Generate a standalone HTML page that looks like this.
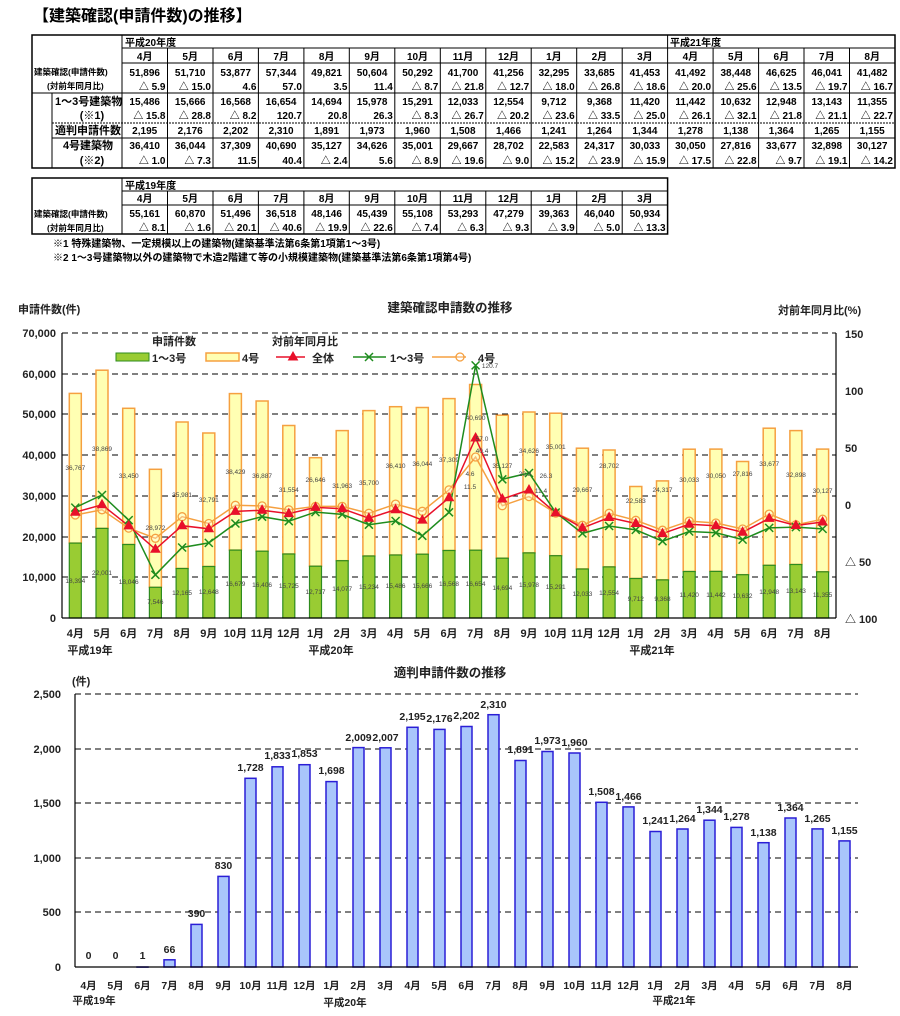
<!DOCTYPE html>
<html><head><meta charset="utf-8"><style>
html,body{margin:0;padding:0;background:#fff}
svg{display:block;font-family:"Liberation Sans","Noto Sans CJK JP",sans-serif}
.t{font-size:10px;font-weight:bold;fill:#000}
.c{text-anchor:middle}.r{text-anchor:end}
.s{font-size:6.5px;fill:#444;text-anchor:middle}
.ax{font-size:11px;font-weight:bold;fill:#222}
.v{font-size:10.5px;font-weight:bold;fill:#222;text-anchor:middle}
</style></head><body>
<svg width="900" height="1016" viewBox="0 0 900 1016" xmlns="http://www.w3.org/2000/svg">
<defs>
<path id="tri" d="M0,-5 L4.5,3 L-4.5,3Z" fill="#e8102a" stroke="#e8102a"/>
<path id="xx" d="M-4,-4L4,4M-4,4L4,-4" stroke="#1e8c1e" stroke-width="1.5" fill="none"/>
<circle id="ci" r="4" fill="#fff" fill-opacity="0.3" stroke="#f5a040" stroke-width="1.3"/>
</defs>
<text x="33" y="21" style="font-size:16px;font-weight:bold">【建築確認(申請件数)の推移】</text>

<!-- TABLE 1 -->
<g stroke="#000" fill="none">
<rect x="32" y="35" width="863" height="133" stroke-width="1.5"/>
<line x1="122" y1="48" x2="895" y2="48"/>
<line x1="122" y1="63" x2="895" y2="63"/>
<line x1="32" y1="63" x2="122" y2="63" stroke-width="0"/>
<line x1="32" y1="93" x2="895" y2="93"/>
<line x1="52" y1="123" x2="895" y2="123" stroke-dasharray="2,1"/>
<line x1="52" y1="138" x2="895" y2="138"/>
<line x1="52" y1="93" x2="52" y2="168"/>
<line x1="122" y1="35" x2="122" y2="168"/>
<line x1="667.6" y1="35" x2="667.6" y2="168"/>
<path d="M167.5,48V168M213,48V168M258.4,48V168M303.9,48V168M349.3,48V168M394.8,48V168M440.3,48V168M485.8,48V168M531.2,48V168M576.7,48V168M622.2,48V168M713.1,48V168M758.6,48V168M804,48V168M849.5,48V168"/>
</g>
<g class="t">
<text x="125" y="46">平成20年度</text><text x="670" y="46">平成21年度</text>
<g class="c">
<text x="144.7" y="60">4月</text><text x="190.2" y="60">5月</text><text x="235.7" y="60">6月</text><text x="281.1" y="60">7月</text><text x="326.6" y="60">8月</text><text x="372.1" y="60">9月</text><text x="417.5" y="60">10月</text><text x="463" y="60">11月</text><text x="508.5" y="60">12月</text><text x="553.9" y="60">1月</text><text x="599.4" y="60">2月</text><text x="644.9" y="60">3月</text><text x="690.4" y="60">4月</text><text x="735.8" y="60">5月</text><text x="781.3" y="60">6月</text><text x="826.8" y="60">7月</text><text x="872.2" y="60">8月</text>
<text x="144.7" y="76">51,896</text><text x="190.2" y="76">51,710</text><text x="235.7" y="76">53,877</text><text x="281.1" y="76">57,344</text><text x="326.6" y="76">49,821</text><text x="372.1" y="76">50,604</text><text x="417.5" y="76">50,292</text><text x="463" y="76">41,700</text><text x="508.5" y="76">41,256</text><text x="553.9" y="76">32,295</text><text x="599.4" y="76">33,685</text><text x="644.9" y="76">41,453</text><text x="690.4" y="76">41,492</text><text x="735.8" y="76">38,448</text><text x="781.3" y="76">46,625</text><text x="826.8" y="76">46,041</text><text x="872.2" y="76">41,482</text>
<text x="144.7" y="105">15,486</text><text x="190.2" y="105">15,666</text><text x="235.7" y="105">16,568</text><text x="281.1" y="105">16,654</text><text x="326.6" y="105">14,694</text><text x="372.1" y="105">15,978</text><text x="417.5" y="105">15,291</text><text x="463" y="105">12,033</text><text x="508.5" y="105">12,554</text><text x="553.9" y="105">9,712</text><text x="599.4" y="105">9,368</text><text x="644.9" y="105">11,420</text><text x="690.4" y="105">11,442</text><text x="735.8" y="105">10,632</text><text x="781.3" y="105">12,948</text><text x="826.8" y="105">13,143</text><text x="872.2" y="105">11,355</text>
<text x="144.7" y="134">2,195</text><text x="190.2" y="134">2,176</text><text x="235.7" y="134">2,202</text><text x="281.1" y="134">2,310</text><text x="326.6" y="134">1,891</text><text x="372.1" y="134">1,973</text><text x="417.5" y="134">1,960</text><text x="463" y="134">1,508</text><text x="508.5" y="134">1,466</text><text x="553.9" y="134">1,241</text><text x="599.4" y="134">1,264</text><text x="644.9" y="134">1,344</text><text x="690.4" y="134">1,278</text><text x="735.8" y="134">1,138</text><text x="781.3" y="134">1,364</text><text x="826.8" y="134">1,265</text><text x="872.2" y="134">1,155</text>
<text x="144.7" y="149">36,410</text><text x="190.2" y="149">36,044</text><text x="235.7" y="149">37,309</text><text x="281.1" y="149">40,690</text><text x="326.6" y="149">35,127</text><text x="372.1" y="149">34,626</text><text x="417.5" y="149">35,001</text><text x="463" y="149">29,667</text><text x="508.5" y="149">28,702</text><text x="553.9" y="149">22,583</text><text x="599.4" y="149">24,317</text><text x="644.9" y="149">30,033</text><text x="690.4" y="149">30,050</text><text x="735.8" y="149">27,816</text><text x="781.3" y="149">33,677</text><text x="826.8" y="149">32,898</text><text x="872.2" y="149">30,127</text>
</g>
<g class="r">
<text x="165.5" y="90">△ 5.9</text><text x="211" y="90">△ 15.0</text><text x="256.4" y="90">4.6</text><text x="301.9" y="90">57.0</text><text x="347.4" y="90">3.5</text><text x="392.8" y="90">11.4</text><text x="438.3" y="90">△ 8.7</text><text x="483.8" y="90">△ 21.8</text><text x="529.2" y="90">△ 12.7</text><text x="574.7" y="90">△ 18.0</text><text x="620.2" y="90">△ 26.8</text><text x="665.6" y="90">△ 18.6</text><text x="711.1" y="90">△ 20.0</text><text x="756.6" y="90">△ 25.6</text><text x="802" y="90">△ 13.5</text><text x="847.5" y="90">△ 19.7</text><text x="893" y="90">△ 16.7</text>
<text x="165.5" y="119">△ 15.8</text><text x="211" y="119">△ 28.8</text><text x="256.4" y="119">△ 8.2</text><text x="301.9" y="119">120.7</text><text x="347.4" y="119">20.8</text><text x="392.8" y="119">26.3</text><text x="438.3" y="119">△ 8.3</text><text x="483.8" y="119">△ 26.7</text><text x="529.2" y="119">△ 20.2</text><text x="574.7" y="119">△ 23.6</text><text x="620.2" y="119">△ 33.5</text><text x="665.6" y="119">△ 25.0</text><text x="711.1" y="119">△ 26.1</text><text x="756.6" y="119">△ 32.1</text><text x="802" y="119">△ 21.8</text><text x="847.5" y="119">△ 21.1</text><text x="893" y="119">△ 22.7</text>
<text x="165.5" y="164">△ 1.0</text><text x="211" y="164">△ 7.3</text><text x="256.4" y="164">11.5</text><text x="301.9" y="164">40.4</text><text x="347.4" y="164">△ 2.4</text><text x="392.8" y="164">5.6</text><text x="438.3" y="164">△ 8.9</text><text x="483.8" y="164">△ 19.6</text><text x="529.2" y="164">△ 9.0</text><text x="574.7" y="164">△ 15.2</text><text x="620.2" y="164">△ 23.9</text><text x="665.6" y="164">△ 15.9</text><text x="711.1" y="164">△ 17.5</text><text x="756.6" y="164">△ 22.8</text><text x="802" y="164">△ 9.7</text><text x="847.5" y="164">△ 19.1</text><text x="893" y="164">△ 14.2</text>
</g>
<text x="34" y="75" style="font-size:8.5px">建築確認(申請件数)</text>
<text x="47" y="89" style="font-size:8.5px">(対前年同月比)</text>
<text x="55" y="105" style="font-size:11px">1～3号建築物</text>
<text x="92" y="119" class="c" style="font-size:11px">(※1)</text>
<text x="55" y="134" style="font-size:11px">適判申請件数</text>
<text x="88" y="149" class="c" style="font-size:11px">4号建築物</text>
<text x="92" y="164" class="c" style="font-size:11px">(※2)</text>
</g>

<!-- TABLE 2 -->
<g stroke="#000" fill="none">
<rect x="32" y="178" width="635.6" height="56" stroke-width="1.5"/>
<line x1="122" y1="191" x2="667.6" y2="191"/>
<line x1="122" y1="205" x2="667.6" y2="205"/>
<line x1="122" y1="178" x2="122" y2="234"/>
<path d="M167.5,191V234M213,191V234M258.4,191V234M303.9,191V234M349.3,191V234M394.8,191V234M440.3,191V234M485.8,191V234M531.2,191V234M576.7,191V234M622.2,191V234"/>
</g>
<g class="t">
<text x="125" y="189">平成19年度</text>
<g class="c">
<text x="144.7" y="202">4月</text><text x="190.2" y="202">5月</text><text x="235.7" y="202">6月</text><text x="281.1" y="202">7月</text><text x="326.6" y="202">8月</text><text x="372.1" y="202">9月</text><text x="417.5" y="202">10月</text><text x="463" y="202">11月</text><text x="508.5" y="202">12月</text><text x="553.9" y="202">1月</text><text x="599.4" y="202">2月</text><text x="644.9" y="202">3月</text>
<text x="144.7" y="217">55,161</text><text x="190.2" y="217">60,870</text><text x="235.7" y="217">51,496</text><text x="281.1" y="217">36,518</text><text x="326.6" y="217">48,146</text><text x="372.1" y="217">45,439</text><text x="417.5" y="217">55,108</text><text x="463" y="217">53,293</text><text x="508.5" y="217">47,279</text><text x="553.9" y="217">39,363</text><text x="599.4" y="217">46,040</text><text x="644.9" y="217">50,934</text>
</g>
<g class="r">
<text x="165.5" y="231">△ 8.1</text><text x="211" y="231">△ 1.6</text><text x="256.4" y="231">△ 20.1</text><text x="301.9" y="231">△ 40.6</text><text x="347.4" y="231">△ 19.9</text><text x="392.8" y="231">△ 22.6</text><text x="438.3" y="231">△ 7.4</text><text x="483.8" y="231">△ 6.3</text><text x="529.2" y="231">△ 9.3</text><text x="574.7" y="231">△ 3.9</text><text x="620.2" y="231">△ 5.0</text><text x="665.6" y="231">△ 13.3</text>
</g>
<text x="34" y="217" style="font-size:8.5px">建築確認(申請件数)</text>
<text x="47" y="231" style="font-size:8.5px">(対前年同月比)</text>
<text x="53" y="247">※1  特殊建築物、一定規模以上の建築物(建築基準法第6条第1項第1～3号)</text>
<text x="53" y="261">※2  1～3号建築物以外の建築物で木造2階建て等の小規模建築物(建築基準法第6条第1項第4号)</text>
</g>

<!-- CHART 1 -->
<text x="18" y="313" class="ax">申請件数(件)</text>
<text x="450" y="312" class="ax c" style="font-size:12.5px">建築確認申請数の推移</text>
<text x="778" y="314" class="ax">対前年同月比(%)</text>
<g stroke="#000" stroke-dasharray="6,4" stroke-width="1">
<line x1="62" y1="333" x2="836" y2="333"/><line x1="62" y1="374" x2="836" y2="374"/><line x1="62" y1="414" x2="836" y2="414"/><line x1="62" y1="455" x2="836" y2="455"/><line x1="62" y1="496" x2="836" y2="496"/><line x1="62" y1="537" x2="836" y2="537"/><line x1="62" y1="577" x2="836" y2="577"/>
</g>
<g class="ax r">
<text x="56" y="337">70,000</text><text x="56" y="378">60,000</text><text x="56" y="418">50,000</text><text x="56" y="459">40,000</text><text x="56" y="500">30,000</text><text x="56" y="541">20,000</text><text x="56" y="581">10,000</text><text x="56" y="622">0</text>
</g>
<g class="ax">
<text x="845" y="338">150</text><text x="845" y="395">100</text><text x="845" y="452">50</text><text x="845" y="509">0</text><text x="845" y="566">△ 50</text><text x="845" y="623">△ 100</text>
</g>
<!-- bars -->
<g fill="#ffffb3" stroke="#f5a040" stroke-width="1.5">
<rect x="69.3" y="393.4" width="12" height="149.7"/><rect x="96" y="370.2" width="12" height="158.2"/><rect x="122.7" y="408.3" width="12" height="136.2"/><rect x="149.4" y="469.3" width="12" height="118"/><rect x="176.1" y="422" width="12" height="146.5"/><rect x="202.8" y="433" width="12" height="133.5"/><rect x="229.4" y="393.6" width="12" height="156.5"/><rect x="256.1" y="401" width="12" height="150.2"/><rect x="282.8" y="425.5" width="12" height="128.5"/><rect x="309.5" y="457.7" width="12" height="108.5"/><rect x="336.2" y="430.6" width="12" height="130.1"/><rect x="362.9" y="410.6" width="12" height="145.4"/><rect x="389.6" y="406.7" width="12" height="148.3"/><rect x="416.3" y="407.5" width="12" height="146.7"/><rect x="443" y="398.6" width="12" height="151.9"/><rect x="469.6" y="384.5" width="12" height="165.7"/><rect x="496.3" y="415.2" width="12" height="143"/><rect x="523" y="412" width="12" height="140.9"/><rect x="549.7" y="413.2" width="12" height="142.5"/><rect x="576.4" y="448.2" width="12" height="120.8"/><rect x="603.1" y="450" width="12" height="116.9"/><rect x="629.8" y="486.5" width="12" height="92"/><rect x="656.5" y="480.9" width="12" height="99"/><rect x="683.2" y="449.2" width="12" height="122.3"/><rect x="709.9" y="449.1" width="12" height="122.3"/><rect x="736.6" y="461.5" width="12" height="113.2"/><rect x="763.2" y="428.2" width="12" height="137.1"/><rect x="789.9" y="430.6" width="12" height="133.9"/><rect x="816.6" y="449.1" width="12" height="122.7"/>
</g>
<g fill="#99cc33" stroke="#2e8b1e" stroke-width="1.2">
<rect x="69.3" y="543.1" width="12" height="74.9"/><rect x="96" y="528.4" width="12" height="89.6"/><rect x="122.7" y="544.5" width="12" height="73.5"/><rect x="149.4" y="587.3" width="12" height="30.7"/><rect x="176.1" y="568.5" width="12" height="49.5"/><rect x="202.8" y="566.5" width="12" height="51.5"/><rect x="229.4" y="550.1" width="12" height="67.9"/><rect x="256.1" y="551.2" width="12" height="66.8"/><rect x="282.8" y="554" width="12" height="64"/><rect x="309.5" y="566.2" width="12" height="51.8"/><rect x="336.2" y="560.7" width="12" height="57.3"/><rect x="362.9" y="556" width="12" height="62"/><rect x="389.6" y="555" width="12" height="63"/><rect x="416.3" y="554.2" width="12" height="63.8"/><rect x="443" y="550.5" width="12" height="67.5"/><rect x="469.6" y="550.2" width="12" height="67.8"/><rect x="496.3" y="558.2" width="12" height="59.8"/><rect x="523" y="552.9" width="12" height="65.1"/><rect x="549.7" y="555.7" width="12" height="62.3"/><rect x="576.4" y="569" width="12" height="49"/><rect x="603.1" y="566.9" width="12" height="51.1"/><rect x="629.8" y="578.5" width="12" height="39.5"/><rect x="656.5" y="579.9" width="12" height="38.1"/><rect x="683.2" y="571.5" width="12" height="46.5"/><rect x="709.9" y="571.4" width="12" height="46.6"/><rect x="736.6" y="574.7" width="12" height="43.3"/><rect x="763.2" y="565.3" width="12" height="52.7"/><rect x="789.9" y="564.5" width="12" height="53.5"/><rect x="816.6" y="571.8" width="12" height="46.2"/>
</g>
<!-- bar labels -->
<g class="s">
<text x="75.3" y="470">36,767</text><text x="102" y="451">38,869</text><text x="128.7" y="478">33,450</text><text x="155.4" y="530">28,972</text><text x="182.1" y="497">35,981</text><text x="208.8" y="502">32,791</text><text x="235.4" y="474">38,429</text><text x="262.1" y="478">36,887</text><text x="288.8" y="492">31,554</text><text x="315.5" y="482">26,646</text><text x="342.2" y="488">31,963</text><text x="368.9" y="485">35,700</text><text x="395.6" y="468">36,410</text><text x="422.3" y="466">36,044</text><text x="449" y="462">37,309</text><text x="475.6" y="420">40,690</text><text x="502.3" y="468">35,127</text><text x="529" y="453">34,626</text><text x="555.7" y="449">35,001</text><text x="582.4" y="492">29,667</text><text x="609.1" y="468">28,702</text><text x="635.8" y="503">22,583</text><text x="662.5" y="492">24,317</text><text x="689.2" y="482">30,033</text><text x="715.9" y="478">30,050</text><text x="742.6" y="476">27,816</text><text x="769.2" y="466">33,677</text><text x="795.9" y="477">32,898</text><text x="822.6" y="493">30,127</text>
<text x="75.3" y="583">18,394</text><text x="102" y="575">22,001</text><text x="128.7" y="584">18,046</text><text x="155.4" y="604">7,546</text><text x="182.1" y="595">12,165</text><text x="208.8" y="594">12,648</text><text x="235.4" y="586">16,679</text><text x="262.1" y="587">16,406</text><text x="288.8" y="588">15,725</text><text x="315.5" y="594">12,717</text><text x="342.2" y="591">14,077</text><text x="368.9" y="589">15,234</text><text x="395.6" y="588">15,486</text><text x="422.3" y="588">15,666</text><text x="449" y="586">16,568</text><text x="475.6" y="586">16,654</text><text x="502.3" y="590">14,694</text><text x="529" y="587">15,978</text><text x="555.7" y="589">15,291</text><text x="582.4" y="596">12,033</text><text x="609.1" y="595">12,554</text><text x="635.8" y="601">9,712</text><text x="662.5" y="601">9,368</text><text x="689.2" y="597">11,420</text><text x="715.9" y="597">11,442</text><text x="742.6" y="598">10,632</text><text x="769.2" y="594">12,948</text><text x="795.9" y="593">13,143</text><text x="822.6" y="597">11,355</text>
</g>
<!-- lines -->
<polyline fill="none" stroke="#f5a040" stroke-width="1.5" points="75.3,515 102,509.8 128.7,528.1 155.4,538.3 182.1,516.7 208.8,523.5 235.4,505.3 262.1,505.9 288.8,509.8 315.5,506.4 342.2,506.4 368.9,513.3 395.6,504.1 422.3,511.3 449,489.9 475.6,457 502.3,505.7 529,496.6 555.7,513.1 582.4,525.3 609.1,513.3 635.8,520.3 662.5,530.2 689.2,521.1 715.9,523 742.6,529 769.2,514.1 795.9,524.8 822.6,519.2"/>
<polyline fill="none" stroke="#1e8c1e" stroke-width="1.5" points="75.3,507.6 102,495 128.7,520.1 155.4,574.8 182.1,547.5 208.8,542.9 235.4,523.5 262.1,516.7 288.8,521.2 315.5,512.1 342.2,514.4 368.9,524.7 395.6,521 422.3,535.8 449,512.3 475.6,365.4 502.3,479.3 529,473 555.7,512.5 582.4,533.4 609.1,526 635.8,529.9 662.5,541.2 689.2,531.5 715.9,532.8 742.6,539.6 769.2,527.9 795.9,527.1 822.6,528.9"/>
<polyline fill="none" stroke="#e8102a" stroke-width="1.5" points="75.3,512.2 102,504.8 128.7,525.9 155.4,549.3 182.1,525.7 208.8,528.8 235.4,511.4 262.1,510.2 288.8,513.6 315.5,507.4 342.2,508.7 368.9,518.2 395.6,509.7 422.3,520.1 449,497.8 475.6,438 502.3,499 529,490 555.7,512.9 582.4,527.9 609.1,517.5 635.8,523.5 662.5,533.6 689.2,524.2 715.9,525.8 742.6,532.2 769.2,518.4 795.9,525.5 822.6,522"/>
<g>
<use href="#ci" x="75.3" y="515"/><use href="#ci" x="102" y="509.8"/><use href="#ci" x="128.7" y="528.1"/><use href="#ci" x="155.4" y="538.3"/><use href="#ci" x="182.1" y="516.7"/><use href="#ci" x="208.8" y="523.5"/><use href="#ci" x="235.4" y="505.3"/><use href="#ci" x="262.1" y="505.9"/><use href="#ci" x="288.8" y="509.8"/><use href="#ci" x="315.5" y="506.4"/><use href="#ci" x="342.2" y="506.4"/><use href="#ci" x="368.9" y="513.3"/><use href="#ci" x="395.6" y="504.1"/><use href="#ci" x="422.3" y="511.3"/><use href="#ci" x="449" y="489.9"/><use href="#ci" x="475.6" y="457"/><use href="#ci" x="502.3" y="505.7"/><use href="#ci" x="529" y="496.6"/><use href="#ci" x="555.7" y="513.1"/><use href="#ci" x="582.4" y="525.3"/><use href="#ci" x="609.1" y="513.3"/><use href="#ci" x="635.8" y="520.3"/><use href="#ci" x="662.5" y="530.2"/><use href="#ci" x="689.2" y="521.1"/><use href="#ci" x="715.9" y="523"/><use href="#ci" x="742.6" y="529"/><use href="#ci" x="769.2" y="514.1"/><use href="#ci" x="795.9" y="524.8"/><use href="#ci" x="822.6" y="519.2"/>
<use href="#xx" x="75.3" y="507.6"/><use href="#xx" x="102" y="495"/><use href="#xx" x="128.7" y="520.1"/><use href="#xx" x="155.4" y="574.8"/><use href="#xx" x="182.1" y="547.5"/><use href="#xx" x="208.8" y="542.9"/><use href="#xx" x="235.4" y="523.5"/><use href="#xx" x="262.1" y="516.7"/><use href="#xx" x="288.8" y="521.2"/><use href="#xx" x="315.5" y="512.1"/><use href="#xx" x="342.2" y="514.4"/><use href="#xx" x="368.9" y="524.7"/><use href="#xx" x="395.6" y="521"/><use href="#xx" x="422.3" y="535.8"/><use href="#xx" x="449" y="512.3"/><use href="#xx" x="475.6" y="365.4"/><use href="#xx" x="502.3" y="479.3"/><use href="#xx" x="529" y="473"/><use href="#xx" x="555.7" y="512.5"/><use href="#xx" x="582.4" y="533.4"/><use href="#xx" x="609.1" y="526"/><use href="#xx" x="635.8" y="529.9"/><use href="#xx" x="662.5" y="541.2"/><use href="#xx" x="689.2" y="531.5"/><use href="#xx" x="715.9" y="532.8"/><use href="#xx" x="742.6" y="539.6"/><use href="#xx" x="769.2" y="527.9"/><use href="#xx" x="795.9" y="527.1"/><use href="#xx" x="822.6" y="528.9"/>
<use href="#tri" x="75.3" y="512.2"/><use href="#tri" x="102" y="504.8"/><use href="#tri" x="128.7" y="525.9"/><use href="#tri" x="155.4" y="549.3"/><use href="#tri" x="182.1" y="525.7"/><use href="#tri" x="208.8" y="528.8"/><use href="#tri" x="235.4" y="511.4"/><use href="#tri" x="262.1" y="510.2"/><use href="#tri" x="288.8" y="513.6"/><use href="#tri" x="315.5" y="507.4"/><use href="#tri" x="342.2" y="508.7"/><use href="#tri" x="368.9" y="518.2"/><use href="#tri" x="395.6" y="509.7"/><use href="#tri" x="422.3" y="520.1"/><use href="#tri" x="449" y="497.8"/><use href="#tri" x="475.6" y="438"/><use href="#tri" x="502.3" y="499"/><use href="#tri" x="529" y="490"/><use href="#tri" x="555.7" y="512.9"/><use href="#tri" x="582.4" y="527.9"/><use href="#tri" x="609.1" y="517.5"/><use href="#tri" x="635.8" y="523.5"/><use href="#tri" x="662.5" y="533.6"/><use href="#tri" x="689.2" y="524.2"/><use href="#tri" x="715.9" y="525.8"/><use href="#tri" x="742.6" y="532.2"/><use href="#tri" x="769.2" y="518.4"/><use href="#tri" x="795.9" y="525.5"/><use href="#tri" x="822.6" y="522"/>
</g>
<g class="s"><text x="490" y="368">120.7</text><text x="482" y="441">57.0</text><text x="482" y="453">40.4</text><text x="470" y="476">4.6</text><text x="470" y="489">11.5</text><text x="525" y="476">20.8</text><text x="546" y="478">26.3</text><text x="541" y="493">11.4</text></g>
<!-- axes -->
<g stroke="#000" stroke-width="1.2">
<line x1="62" y1="333" x2="62" y2="618"/><line x1="836" y1="333" x2="836" y2="618"/><line x1="62" y1="618" x2="836" y2="618"/>
</g>
<!-- legend -->
<g class="ax">
<text x="152" y="345">申請件数</text><text x="272" y="345">対前年同月比</text>
<rect x="116" y="353" width="33" height="8" fill="#99cc33" stroke="#2e8b1e"/><text x="152" y="362">1～3号</text>
<rect x="206" y="353" width="33" height="8" fill="#ffffb3" stroke="#f5a040" stroke-width="1.5"/><text x="242" y="362">4号</text>
<line x1="276" y1="357" x2="305" y2="357" stroke="#e8102a" stroke-width="1.5"/><use href="#tri" x="293" y="357"/><text x="312" y="362">全体</text>
<line x1="353" y1="357" x2="386" y2="357" stroke="#1e8c1e" stroke-width="1.5"/><use href="#xx" x="369" y="357"/><text x="390" y="362">1～3号</text>
<line x1="432" y1="357" x2="466" y2="357" stroke="#f5a040" stroke-width="1.5"/><use href="#ci" x="460" y="357"/><text x="478" y="362">4号</text>
</g>
<g class="ax c">
<text x="75.3" y="637">4月</text><text x="102" y="637">5月</text><text x="128.7" y="637">6月</text><text x="155.4" y="637">7月</text><text x="182.1" y="637">8月</text><text x="208.8" y="637">9月</text><text x="235.4" y="637">10月</text><text x="262.1" y="637">11月</text><text x="288.8" y="637">12月</text><text x="315.5" y="637">1月</text><text x="342.2" y="637">2月</text><text x="368.9" y="637">3月</text><text x="395.6" y="637">4月</text><text x="422.3" y="637">5月</text><text x="449" y="637">6月</text><text x="475.6" y="637">7月</text><text x="502.3" y="637">8月</text><text x="529" y="637">9月</text><text x="555.7" y="637">10月</text><text x="582.4" y="637">11月</text><text x="609.1" y="637">12月</text><text x="635.8" y="637">1月</text><text x="662.5" y="637">2月</text><text x="689.2" y="637">3月</text><text x="715.9" y="637">4月</text><text x="742.6" y="637">5月</text><text x="769.2" y="637">6月</text><text x="795.9" y="637">7月</text><text x="822.6" y="637">8月</text>
<text x="90" y="654">平成19年</text><text x="331" y="654">平成20年</text><text x="652" y="654">平成21年</text>
</g>

<!-- CHART 2 -->
<text x="450" y="677" class="ax c" style="font-size:12.5px">適判申請件数の推移</text>
<text x="72" y="685" class="ax">(件)</text>
<g stroke="#000" stroke-dasharray="6,4">
<line x1="75" y1="694" x2="858" y2="694"/><line x1="75" y1="749" x2="858" y2="749"/><line x1="75" y1="803" x2="858" y2="803"/><line x1="75" y1="858" x2="858" y2="858"/><line x1="75" y1="912" x2="858" y2="912"/>
</g>
<g class="ax r">
<text x="61" y="698">2,500</text><text x="61" y="753">2,000</text><text x="61" y="807">1,500</text><text x="61" y="862">1,000</text><text x="61" y="916">500</text><text x="61" y="971">0</text>
</g>
<g fill="#a9c6fb" stroke="#2a1ed6" stroke-width="1.5">
<rect x="137" y="967" width="11" height="0.1"/><rect x="164" y="959.8" width="11" height="7.2"/><rect x="191" y="924.4" width="11" height="42.6"/><rect x="218" y="876.4" width="11" height="90.6"/><rect x="245" y="778.3" width="11" height="188.7"/><rect x="272" y="766.8" width="11" height="200.2"/><rect x="299" y="764.7" width="11" height="202.3"/><rect x="326" y="781.6" width="11" height="185.4"/><rect x="353" y="747.6" width="11" height="219.4"/><rect x="380" y="747.8" width="11" height="219.2"/><rect x="407" y="727.3" width="11" height="239.7"/><rect x="434" y="729.4" width="11" height="237.6"/><rect x="461" y="726.5" width="11" height="240.5"/><rect x="488" y="714.7" width="11" height="252.3"/><rect x="515" y="760.5" width="11" height="206.5"/><rect x="542" y="751.5" width="11" height="215.5"/><rect x="569" y="753" width="11" height="214"/><rect x="596" y="802.3" width="11" height="164.7"/><rect x="623" y="806.9" width="11" height="160.1"/><rect x="650" y="831.5" width="11" height="135.5"/><rect x="677" y="829" width="11" height="138"/><rect x="704" y="820.2" width="11" height="146.8"/><rect x="731" y="827.4" width="11" height="139.6"/><rect x="758" y="842.7" width="11" height="124.3"/><rect x="785" y="818" width="11" height="149"/><rect x="812" y="828.9" width="11" height="138.1"/><rect x="839" y="840.9" width="11" height="126.1"/>
</g>
<g stroke="#000" stroke-width="1.2"><line x1="75" y1="694" x2="75" y2="967"/><line x1="75" y1="967" x2="858" y2="967"/></g>
<g class="v">
<text x="88.5" y="959">0</text><text x="115.5" y="959">0</text><text x="142.5" y="959">1</text><text x="169.5" y="953">66</text><text x="196.5" y="917">390</text><text x="223.5" y="869">830</text><text x="250.5" y="771">1,728</text><text x="277.5" y="759">1,833</text><text x="304.5" y="757">1,853</text><text x="331.5" y="774">1,698</text><text x="358.5" y="741">2,009</text><text x="385.5" y="741">2,007</text><text x="412.5" y="720">2,195</text><text x="439.5" y="722">2,176</text><text x="466.5" y="719">2,202</text><text x="493.5" y="708">2,310</text><text x="520.5" y="753">1,891</text><text x="547.5" y="744">1,973</text><text x="574.5" y="746">1,960</text><text x="601.5" y="795">1,508</text><text x="628.5" y="800">1,466</text><text x="655.5" y="824">1,241</text><text x="682.5" y="822">1,264</text><text x="709.5" y="813">1,344</text><text x="736.5" y="820">1,278</text><text x="763.5" y="836">1,138</text><text x="790.5" y="811">1,364</text><text x="817.5" y="822">1,265</text><text x="844.5" y="834">1,155</text>
</g>
<g class="ax c" style="font-size:10.5px">
<text x="88.5" y="989">4月</text><text x="115.5" y="989">5月</text><text x="142.5" y="989">6月</text><text x="169.5" y="989">7月</text><text x="196.5" y="989">8月</text><text x="223.5" y="989">9月</text><text x="250.5" y="989">10月</text><text x="277.5" y="989">11月</text><text x="304.5" y="989">12月</text><text x="331.5" y="989">1月</text><text x="358.5" y="989">2月</text><text x="385.5" y="989">3月</text><text x="412.5" y="989">4月</text><text x="439.5" y="989">5月</text><text x="466.5" y="989">6月</text><text x="493.5" y="989">7月</text><text x="520.5" y="989">8月</text><text x="547.5" y="989">9月</text><text x="574.5" y="989">10月</text><text x="601.5" y="989">11月</text><text x="628.5" y="989">12月</text><text x="655.5" y="989">1月</text><text x="682.5" y="989">2月</text><text x="709.5" y="989">3月</text><text x="736.5" y="989">4月</text><text x="763.5" y="989">5月</text><text x="790.5" y="989">6月</text><text x="817.5" y="989">7月</text><text x="844.5" y="989">8月</text>
<text x="94" y="1004">平成19年</text><text x="345" y="1006">平成20年</text><text x="674" y="1004">平成21年</text>
</g>
</svg>
</body></html>
